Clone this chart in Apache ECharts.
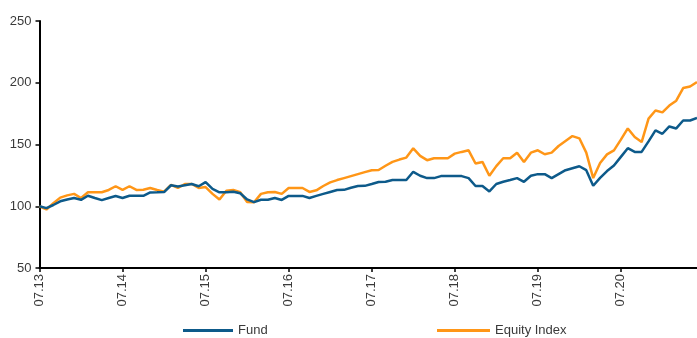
<!DOCTYPE html>
<html>
<head>
<meta charset="utf-8">
<script src="https://cdn.jsdelivr.net/npm/echarts@6/dist/echarts.min.js"></script>
<style>
  html, body { margin: 0; padding: 0; background: #ffffff; }
  #chart { width: 697px; height: 338px; }
</style>
</head>
<body>
<div id="chart"></div>
<script>
// Monthly index levels, rebased to 100 at July 2013 (07.13 … 06.21)
const startMonth = 7;
const startYear = 13;
const monthCount = 96;

const yearTickLabels = ['07.13', '07.14', '07.15', '07.16', '07.17', '07.18', '07.19', '07.20'];

const fundValues = [
  100, 98.5, 101, 104, 105.5, 106.7, 105.2, 108.5, 106.7, 105, 106.7, 108.3,
  106.7, 108.5, 108.5, 108.5, 111.2, 111.3, 111.5, 117, 116, 117, 118, 116.2,
  119.5, 114, 111.3, 111.3, 111.8, 110.5, 105.5, 103.3, 105.3, 105.3, 106.7, 105.1,
  108.4, 108.4, 108.4, 106.7, 108.4, 110, 111.6, 113.2, 113.3, 115, 116.4, 116.5,
  118, 119.6, 119.8, 121.2, 121.2, 121.2, 127.9, 124.7, 122.8, 122.8, 124.4, 124.4,
  124.4, 124.4, 122.8, 116.4, 116.4, 112, 118, 119.8, 121.2, 122.8, 119.8, 124.7,
  126, 126, 122.8, 126, 129.2, 130.8, 132.4, 129.2, 116.6, 123, 128.5, 133,
  140, 147, 144, 144, 152.5, 161.4, 158.7, 164.6, 163, 169.4, 169.4, 171.5
];

const equityIndexValues = [
  100, 97.4, 102.4, 107, 108.8, 110, 106.7, 111.3, 111.3, 111.3, 113.2, 116.2,
  113.2, 116.2, 113.2, 113.4, 114.8, 113.2, 111.8, 117.4, 114.8, 118, 118, 114.8,
  115.5, 110, 105.4, 112.6, 113.2, 111.3, 103.5, 103.2, 110, 111.3, 111.6, 110,
  114.8, 114.8, 114.8, 111.6, 112.9, 116.4, 119.3, 121.2, 122.8, 124.4, 126, 127.6,
  129.2, 129.3, 132.8, 135.9, 137.8, 139.4, 146.9, 140.8, 137.3, 138.9, 138.9, 138.9,
  142.6, 144, 145.3, 134.6, 135.9, 124.7, 132.5, 138.9, 138.9, 143.4, 135.9, 143.4,
  145.3, 142.1, 143.4, 148.8, 152.8, 156.8, 155, 143.4, 122.8, 135, 142, 145.3,
  154, 163, 156, 152, 171, 177.5, 176, 181.5, 185.5, 195.7, 197, 200.5
];

// Month categories in MM.YY form
const months = [];
for (let i = 0; i < monthCount; i++) {
  const m = (startMonth - 1 + i) % 12 + 1;
  const y = startYear + Math.floor((startMonth - 1 + i) / 12);
  months.push(String(m).padStart(2, '0') + '.' + String(y).padStart(2, '0'));
}
const isYearTick = (idx) => yearTickLabels.indexOf(months[idx]) !== -1;

const FONT = '"Liberation Sans Narrow", "Liberation Sans", Arial, sans-serif';
const BLUE = '#0d5a8a';
const ORANGE = '#ff9617';

const chart = echarts.init(document.getElementById('chart'), null, { renderer: 'canvas' });
chart.setOption({
  animation: false,
  backgroundColor: '#ffffff',
  grid: { left: 39.5, right: 0, top: 21, bottom: 70, containLabel: false },
  legend: [
    {
      data: ['Fund'], left: 183, top: 324, padding: 0,
      icon: 'rect', itemWidth: 50, itemHeight: 3, itemGap: 6,
      textStyle: { fontFamily: FONT, fontSize: 13, color: '#3a3a3a' }
    },
    {
      data: ['Equity Index'], left: 437, top: 324, padding: 0,
      icon: 'rect', itemWidth: 53, itemHeight: 3, itemGap: 6,
      textStyle: { fontFamily: FONT, fontSize: 13, color: '#3a3a3a' }
    }
  ],
  xAxis: {
    type: 'category',
    data: months,
    boundaryGap: false,
    axisLine: { show: true, lineStyle: { color: '#000000', width: 2 } },
    axisTick: { show: true, interval: (idx) => isYearTick(idx), length: 4, lineStyle: { color: '#000000', width: 1.5 } },
    axisLabel: {
      interval: (idx) => isYearTick(idx),
      rotate: 90,
      margin: 6,
      fontFamily: FONT,
      fontSize: 13,
      color: '#3a3a3a'
    },
    splitLine: { show: false }
  },
  yAxis: {
    type: 'value',
    min: 50,
    max: 250,
    interval: 50,
    axisLine: { show: true, lineStyle: { color: '#000000', width: 2 } },
    axisTick: { show: true, length: 4, lineStyle: { color: '#000000', width: 1.5 } },
    axisLabel: { margin: 8, fontFamily: FONT, fontSize: 13, color: '#3a3a3a' },
    splitLine: { show: false }
  },
  series: [
    {
      name: 'Fund', type: 'line', data: fundValues,
      symbol: 'none', z: 3,
      lineStyle: { color: BLUE, width: 2.5 },
      itemStyle: { color: BLUE }
    },
    {
      name: 'Equity Index', type: 'line', data: equityIndexValues,
      symbol: 'none', z: 2,
      lineStyle: { color: ORANGE, width: 2.5 },
      itemStyle: { color: ORANGE }
    }
  ]
});
</script>
</body>
</html>
